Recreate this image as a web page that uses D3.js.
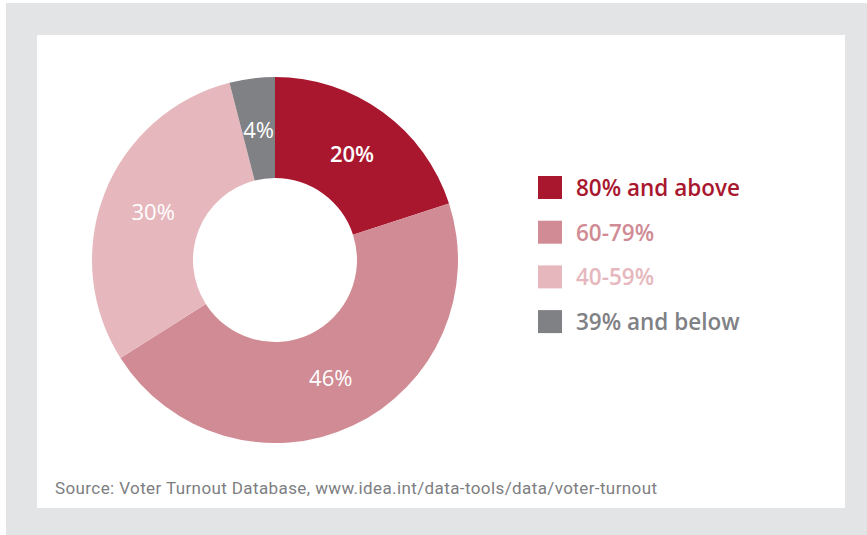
<!DOCTYPE html>
<html>
<head>
<meta charset="utf-8">
<script src="https://cdn.jsdelivr.net/npm/d3@7"></script>
<style>
  html, body { margin: 0; padding: 0; background: #ffffff; }
  svg { display: block; }
</style>
</head>
<body>
<svg id="chart" width="867" height="535"></svg>
<script>
// Voter turnout bands and their share of elections (percent)
const categories = ["80% and above", "60-79%", "40-59%", "39% and below"];
const shares = [20, 46, 30, 4];
const sliceLabels = ["20%", "46%", "30%", "4%"];
const palette = ["#a9172f", "#d08b94", "#e6b8be", "#808185"];
const sourceNote = "Source: Voter Turnout Database, www.idea.int/data-tools/data/voter-turnout";

const svg = d3.select("#chart");

// outer grey frame and white card
svg.append("rect").attr("x", 6).attr("y", 3).attr("width", 861).attr("height", 532).attr("fill", "#e3e4e5");
svg.append("rect").attr("x", 37).attr("y", 35).attr("width", 808).attr("height", 473).attr("fill", "#ffffff");

const cx = 275, cy = 260, rOuter = 183, rInner = 82;

const color = d3.scaleOrdinal().domain(categories).range(palette);

const pie = d3.pie().value(d => d.value).sort(null);
const arcs = pie(categories.map((c, i) => ({ name: c, value: shares[i], label: sliceLabels[i] })));

const arc = d3.arc().innerRadius(rInner).outerRadius(rOuter);
const labelArc = d3.arc().innerRadius(131).outerRadius(131);

const g = svg.append("g").attr("transform", `translate(${cx},${cy})`);

g.selectAll("path.slice")
  .data(arcs)
  .join("path")
  .attr("class", "slice")
  .attr("d", arc)
  .attr("fill", d => color(d.data.name));

g.selectAll("text.value")
  .data(arcs)
  .join("text")
  .attr("class", "value")
  .attr("transform", d => { const [x, y] = labelArc.centroid(d); return `translate(${x},${y})`; })
  .attr("text-anchor", "middle")
  .attr("dy", "0.36em")
  .attr("fill", "#ffffff")
  .attr("font-family", "'Open Sans', 'Noto Sans', sans-serif")
  .attr("font-size", 22)
  .attr("font-weight", (d, i) => i === 0 ? 600 : 400)
  .text(d => d.data.label);

// legend
const legend = svg.append("g").attr("transform", "translate(538,176)");
const rowStep = 44.7;
const rows = legend.selectAll("g.row")
  .data(categories)
  .join("g")
  .attr("class", "row")
  .attr("transform", (d, i) => `translate(0,${i * rowStep})`);

rows.append("rect")
  .attr("width", 24).attr("height", 23)
  .attr("fill", d => color(d));

rows.append("text")
  .attr("x", 38).attr("y", 20)
  .attr("fill", d => color(d))
  .attr("font-family", "'Open Sans', 'Noto Sans', sans-serif")
  .attr("font-size", 22.5)
  .attr("font-weight", 600)
  .text(d => d);

// source line
svg.append("text")
  .attr("x", 55).attr("y", 494)
  .attr("fill", "#7d7e81")
  .attr("font-family", "Roboto, sans-serif")
  .attr("font-size", 17)
  .attr("textLength", 602)
  .attr("lengthAdjust", "spacing")
  .text(sourceNote);
</script>
</body>
</html>
